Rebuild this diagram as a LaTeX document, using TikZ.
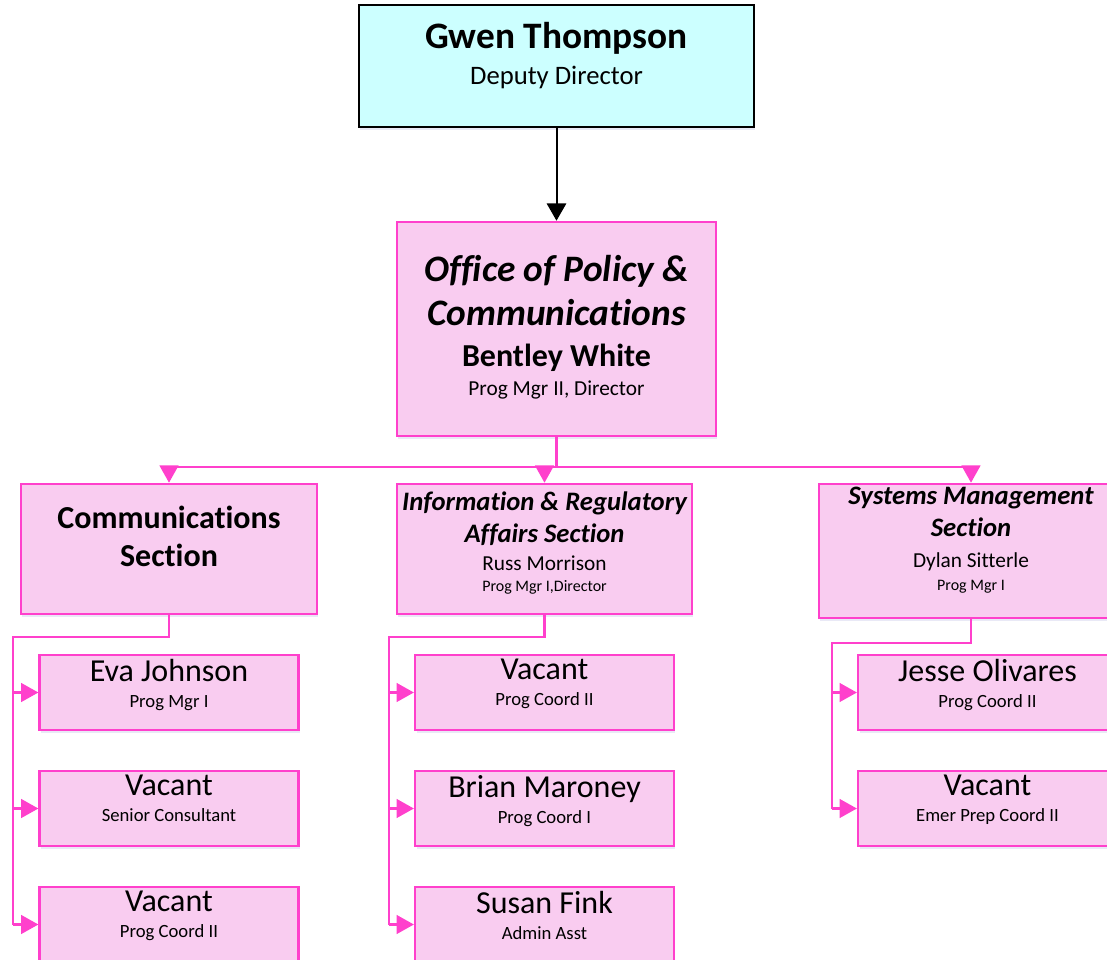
\documentclass[tikz,border=0pt]{standalone}
\usepackage{fontspec}
\setmainfont{Carlito}[Ligatures={NoCommon,NoRequired,NoContextual}, Contextuals=NoAlternate, RawFeature={-liga;-calt}]
\usetikzlibrary{arrows.meta, shadows}
\definecolor{boxpink}{RGB}{249,204,240}
\definecolor{edgepink}{RGB}{255,64,204}
\definecolor{boxcyan}{RGB}{204,255,255}
\newcommand{\sz}[1]{\fontsize{#1}{40pt}\selectfont}
\tikzset{pinkbox/.style={draw=edgepink, fill=boxpink, line width=1.9pt, inner sep=0pt,
    drop shadow={shadow xshift=1pt, shadow yshift=-2pt, opacity=0.12, fill=blue!40!gray}}}
\tikzset{cyanbox/.style={draw=black, fill=boxcyan, line width=0.8pt, inner sep=0pt,
    drop shadow={shadow xshift=1pt, shadow yshift=-2pt, opacity=0.12, fill=blue!40!gray}}}
\tikzset{kidbox/.style={pinkbox, minimum width=194pt, minimum height=56.25pt}}
\tikzset{lbl/.style={align=center, inner sep=0pt, anchor=north, font=\sz{12pt}}}
\tikzset{pinkline/.style={draw=edgepink, line width=1.9pt}}
\tikzset{pinkarrow/.style={pinkline, -{Triangle[length=13pt, width=14pt]}}}
\tikzset{blackarrow/.style={draw=black, line width=1.5pt, -{Triangle[length=13pt, width=14.5pt]}}}

\begin{document}
\begin{tikzpicture}[x=0.75pt, y=-0.75pt]
    \useasboundingbox (0, 0) rectangle (1107, 960);
    \clip (0, 0) rectangle (1107, 960);

    % top two levels
    \node[cyanbox, minimum width=296.25pt, minimum height=91.5pt] (gwen) at (556.5, 66) {};
    \node[pinkbox, minimum width=239.25pt, minimum height=160.5pt] (office) at (556.5, 329) {};

    % sections
    \node[pinkbox, minimum width=222pt, minimum height=97.5pt] (comm) at (169, 549) {};
    \node[pinkbox, minimum width=221.25pt, minimum height=97.5pt] (info) at (544.5, 549) {};
    \node[pinkbox, minimum width=228pt, minimum height=100.5pt] (sys) at (971, 551) {};

    % staff
    \node[kidbox] (comma) at (169, 692.5) {};
    \node[kidbox] (commb) at (169, 808.5) {};
    \node[kidbox] (commc) at (169, 924.5) {};
    \node[kidbox] (infoa) at (544.5, 692.5) {};
    \node[kidbox] (infob) at (544.5, 808.5) {};
    \node[kidbox] (infoc) at (544.5, 924.5) {};
    \node[kidbox] (sysa) at (987.5, 692.5) {};
    \node[kidbox] (sysb) at (987.5, 808.5) {};

    % texts
    \node[lbl] (gwent) at (556.5, 22.5) {{\sz{28pt}\bfseries Gwen Thompson}\\[-13pt]{\sz{20pt}Deputy Director}};
    \node[lbl] (officet) at (556.5, 255.5) {{\sz{28pt}\bfseries\itshape Office of Policy \&}\\[-7pt]
        {\sz{28pt}\bfseries\itshape Communications}\\[-9.25pt]
        {\sz{24pt}\bfseries Bentley White}\\[-18.6pt]{\sz{16pt}Prog Mgr II, Director}};
    \node[lbl] (commt) at (169, 505.5) {{\sz{24pt}\bfseries Communications}\\[-11.5pt]{\sz{24pt}\bfseries Section}};
    \node[lbl] (infot) at (544.5, 492) {{\sz{20pt}\bfseries\itshape Information \& Regulatory}\\[-16pt]
        {\sz{20pt}\bfseries\itshape Affairs Section}\\[-19.4pt]
        {\sz{16pt}Russ Morrison}\\[-23.9pt]{\sz{12pt}Prog Mgr I,Director}};
    \node[lbl] (syst) at (971, 487) {{\sz{20pt}\bfseries\itshape Systems Management}\\[-16pt]
        {\sz{20pt}\bfseries\itshape Section}\\[-17.1pt]
        {\sz{16pt}Dylan Sitterle}\\[-22.4pt]{\sz{12pt}Prog Mgr I}};

    \node[lbl] (commat) at (169, 659) {{\sz{24pt}Eva Johnson}\\[-20.5pt]{\sz{14pt}Prog Mgr I}};
    \node[lbl] (commbt) at (169, 775) {{\sz{24pt}Vacant}\\[-20.5pt]{\sz{14pt}Senior Consultant}};
    \node[lbl] (commct) at (169, 891) {{\sz{24pt}Vacant}\\[-20.5pt]{\sz{14pt}Prog Coord II}};
    \node[lbl] (infoat) at (544.5, 659) {{\sz{24pt}Vacant}\\[-20.5pt]{\sz{14pt}Prog Coord II}};
    \node[lbl] (infobt) at (544.5, 775) {{\sz{24pt}Brian Maroney}\\[-20.5pt]{\sz{14pt}Prog Coord I}};
    \node[lbl] (infoct) at (544.5, 891) {{\sz{24pt}Susan Fink}\\[-20.5pt]{\sz{14pt}Admin Asst}};
    \node[lbl] (sysat) at (987.5, 659) {{\sz{24pt}Jesse Olivares}\\[-20.5pt]{\sz{14pt}Prog Coord II}};
    \node[lbl] (sysbt) at (987.5, 775) {{\sz{24pt}Vacant}\\[-20.5pt]{\sz{14pt}Emer Prep Coord II}};

    % connectors
    \coordinate (busl) at (169, 467);
    \coordinate (busr) at (971, 467);
    \coordinate (commtop) at (13, 637);
    \coordinate (infotop) at (389, 637);
    \coordinate (systop) at (832, 643);

    \draw[blackarrow] (gwen) -- (office);

    \draw[pinkline] (office.south) -- (office.south |- busl);
    \draw[pinkline] (busl) -- (busr);
    \draw[pinkarrow] (busl) -- (comm.north);
    \draw[pinkarrow] (info.north |- busl) -- (info.north);
    \draw[pinkarrow] (busr) -- (sys.north);

    \draw[pinkline] (comm.south) |- (commtop) -- (commtop |- commc.west);
    \draw[pinkline] (info.south) |- (infotop) -- (infotop |- infoc.west);
    \draw[pinkline] (sys.south) |- (systop) -- (systop |- sysb.west);

    \draw
    (commtop |- comma.west) edge[pinkarrow] (comma.west)
    (commtop |- commb.west) edge[pinkarrow] (commb.west)
    (commtop |- commc.west) edge[pinkarrow] (commc.west)
    (infotop |- infoa.west) edge[pinkarrow] (infoa.west)
    (infotop |- infob.west) edge[pinkarrow] (infob.west)
    (infotop |- infoc.west) edge[pinkarrow] (infoc.west)
    (systop |- sysa.west) edge[pinkarrow] (sysa.west)
    (systop |- sysb.west) edge[pinkarrow] (sysb.west);
\end{tikzpicture}
\end{document}
